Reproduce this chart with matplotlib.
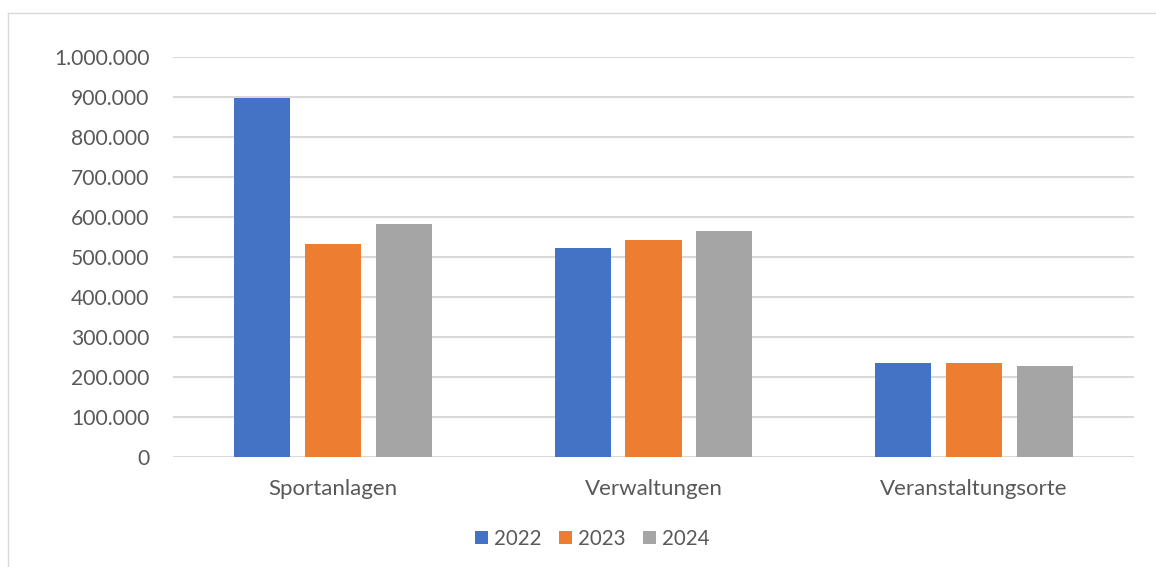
import numpy as np
import matplotlib.pyplot as plt
from matplotlib.lines import Line2D
from matplotlib.ticker import FuncFormatter

categories = ["Sportanlagen", "Verwaltungen", "Veranstaltungsorte"]
years = ["2022", "2023", "2024"]
values_2022 = [897000, 522000, 234000]
values_2023 = [532000, 542000, 236000]
values_2024 = [583000, 565000, 227000]
colors = ["#4472C4", "#ED7D31", "#A5A5A5"]

plt.rcParams['font.family'] = ['Lato', 'DejaVu Sans']
text_color = "#595959"
grid_color = "#D9D9D9"


def de_fmt(v, pos):
    return f"{int(round(v)):,}".replace(",", ".")


def main():
    fig = plt.figure(figsize=(11.56, 5.67), dpi=100)
    ax = fig.add_axes([173 / 1156, 1 - 457 / 567, (1134 - 173) / 1156, 400 / 567])

    x = np.arange(len(categories))
    width = 0.175
    step = 0.2215
    series = [values_2022, values_2023, values_2024]
    for i, (vals, year) in enumerate(zip(series, years)):
        ax.bar(x + (i - 1) * step, vals, width, color=colors[i], label=year, zorder=3)

    ax.set_xlim(-0.5, len(categories) - 0.5)
    ax.set_ylim(0, 1000000)
    ax.set_yticks(np.arange(0, 1000001, 100000))
    ax.yaxis.set_major_formatter(FuncFormatter(de_fmt))
    ax.set_xticks(x)
    ax.set_xticklabels(categories)

    ax.grid(axis='y', color=grid_color, linewidth=1.5, zorder=0)
    for s in ax.spines.values():
        s.set_visible(False)
    ax.tick_params(axis='y', length=0, colors=text_color, labelsize=15.2, pad=17)
    ax.tick_params(axis='x', length=0, colors=text_color, labelsize=16, pad=16)

    leg = fig.legend(loc='center', bbox_to_anchor=(592 / 1156, 1 - 539 / 567), ncol=3,
                     frameon=False, fontsize=14.8, handlelength=0.63, handleheight=0.63,
                     handletextpad=0.3, columnspacing=0.85)
    for t in leg.get_texts():
        t.set_color(text_color)

    # chart frame
    fig.add_artist(Line2D([8 / 1156, 1], [1 - 13 / 567, 1 - 13 / 567], color=grid_color, lw=1))
    fig.add_artist(Line2D([8 / 1156, 8 / 1156], [0, 1 - 13 / 567], color=grid_color, lw=1))

    fig.savefig("out.png", dpi=100)


if __name__ == "__main__":
    main()
